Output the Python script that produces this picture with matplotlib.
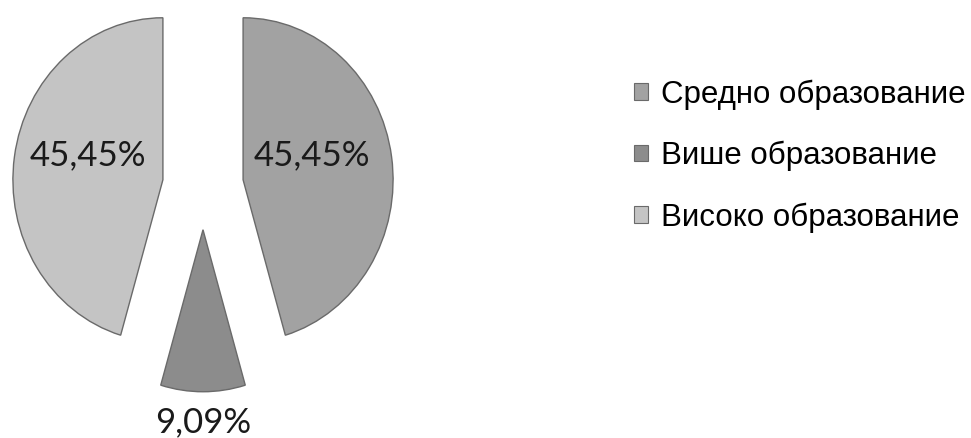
import matplotlib.pyplot as plt
from matplotlib.patches import Patch

# education levels and their share of respondents, %
categories = ["Средно образование", "Више образование", "Високо образование"]
shares = [45.45, 9.09, 45.45]
colors = ["#a2a2a2", "#8c8c8c", "#c4c4c4"]
explode = [0.27, 0.27, 0.27]

W, H = 971, 438
fig = plt.figure(figsize=(W / 100, H / 100), dpi=100)
fig.patch.set_facecolor("white")

# pie axes on the left, slightly taller than wide like the original export
ax_w = 420
ax = fig.add_axes([0, 0, ax_w / W, 1])
rx, ry = 150, 162
cx, cy = 203, H - 186

wedges, _ = ax.pie(
    shares,
    colors=colors,
    explode=explode,
    startangle=90,
    counterclock=False,
    wedgeprops=dict(edgecolor="#6a6a6a", linewidth=1.0),
    frame=False,
)
ax.set_xlim(-cx / rx, (ax_w - cx) / rx)
ax.set_ylim(-cy / ry, (H - cy) / ry)
ax.set_aspect("auto")
ax.axis("off")

# value labels, decimal comma
label_pos = [(0.727, 0.19), (0.0, -1.46), (-0.767, 0.19)]
for v, (x, y) in zip(shares, label_pos):
    ax.text(x, y, f"{v:.2f}%".replace(".", ","), ha="center", va="center",
            fontsize=25, family="Lato", color="#1a1a1a")

handles = [Patch(facecolor=c, edgecolor="#6a6a6a", linewidth=0.8) for c in colors]
fig.legend(
    handles, categories,
    loc="center left",
    bbox_to_anchor=(634 / W, 1 - 156 / H),
    frameon=False,
    prop=dict(family="Liberation Sans", size=22.5),
    handlelength=0.45, handleheight=0.45,
    handletextpad=0.4,
    labelspacing=1.0,
    borderpad=0, borderaxespad=0,
)

fig.savefig("out.png", dpi=100, facecolor="white")
